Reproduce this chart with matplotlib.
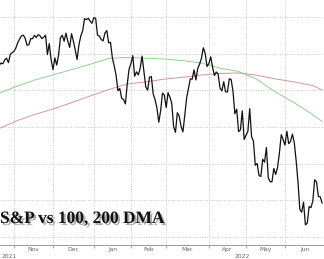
import numpy as np
import pandas as pd
import matplotlib
matplotlib.use("Agg")
import matplotlib.pyplot as plt
import matplotlib.patheffects as pe

# trading days shown (NYSE holidays removed)
holidays = ["2021-11-25", "2021-12-24", "2022-01-17", "2022-02-21",
            "2022-04-15", "2022-05-30", "2022-06-20"]
dates = pd.bdate_range("2021-10-19", "2022-06-30", freq="C", holidays=holidays)

# S&P 500 closes
spx_oct = [4519, 4536, 4549, 4545, 4566, 4575, 4551, 4596, 4605]
spx_nov = [4613, 4631, 4660, 4680, 4697, 4701, 4685, 4646, 4649, 4682, 4682,
           4700, 4688, 4704, 4698, 4682, 4690, 4701, 4595, 4655, 4567]
spx_dec = [4513, 4577, 4538, 4592, 4686, 4701, 4668, 4712, 4668, 4634, 4709,
           4668, 4620, 4568, 4649, 4697, 4725, 4791, 4786, 4793, 4778, 4766]
spx_jan = [4796, 4793, 4701, 4696, 4677, 4670, 4713, 4726, 4659, 4662, 4577,
           4533, 4483, 4398, 4410, 4357, 4350, 4326, 4432, 4516]
spx_feb = [4546, 4589, 4477, 4501, 4484, 4522, 4587, 4504, 4419, 4401, 4472,
           4475, 4380, 4349, 4305, 4226, 4288, 4385, 4374]
spx_mar = [4306, 4387, 4363, 4329, 4201, 4171, 4278, 4260, 4204, 4173, 4262,
           4358, 4412, 4463, 4461, 4512, 4457, 4520, 4543, 4575, 4632, 4602, 4530]
spx_apr = [4546, 4583, 4525, 4481, 4500, 4488, 4413, 4397, 4447, 4392, 4391,
           4463, 4459, 4394, 4272, 4297, 4175, 4184, 4288, 4132]
spx_may = [4155, 4175, 4300, 4147, 4123, 3991, 4001, 3935, 3930, 4024, 4008,
           4088, 3923, 3901, 3901, 3974, 3941, 3979, 4058, 4158, 4132]
spx_jun = [4101, 4177, 4109, 4121, 4161, 4116, 4018, 3901, 3750, 3735, 3790,
           3666, 3675, 3765, 3760, 3796, 3912, 3900, 3821, 3819, 3785]
spx = np.array(spx_oct + spx_nov + spx_dec + spx_jan + spx_feb + spx_mar
               + spx_apr + spx_may + spx_jun, dtype=float)
assert len(spx) == len(dates)

# moving averages, read every 10 trading days
ma_idx = [0, 10, 20, 30, 40, 50, 60, 70, 80, 90, 100, 110, 120, 130, 140,
          150, 160, 170, 175]
dma100 = [4380, 4420, 4456, 4484, 4513, 4542, 4574, 4580, 4575, 4571, 4562,
          4549, 4521, 4503, 4460, 4390, 4333, 4267, 4230]
dma200 = [4187, 4232, 4268, 4298, 4333, 4369, 4404, 4435, 4446, 4461, 4471,
          4484, 4492, 4495, 4482, 4462, 4446, 4426, 4402]

x = np.arange(len(dates))
months = dates.to_period("M")
month_start = [i for i in range(1, len(dates)) if months[i] != months[i - 1]]
bounds = month_start + [len(dates)]
month_mid = [(bounds[k] + bounds[k + 1]) / 2 for k in range(len(month_start))]
month_lab = [dates[i].strftime("%b") for i in month_start]

fig = plt.figure(figsize=(3.24, 2.59), dpi=100)
ax = fig.add_axes([0, 14 / 259, 1, 245 / 259])

ax.plot(ma_idx, dma100, color="#93cf93", lw=0.7, zorder=2)
ax.plot(ma_idx, dma200, color="#cf9a9a", lw=0.7, zorder=2)
ax.plot(x, spx, color="#111111", lw=0.9, zorder=3)

# 1.856 px per trading day, Nov 1 sits at 14 px
nov1 = month_start[0]
ax.set_xlim(nov1 - 14 / 1.856, nov1 + 310 / 1.856)
ax.set_ylim(3556, 4893)

ax.set_xticks(month_start)
ax.set_xticks(month_mid, minor=True)
ax.set_xticklabels([])
ax.set_xticklabels(month_lab, minor=True)
ax.set_yticks(np.arange(3600, 4801, 200))
ax.tick_params(axis="x", which="major", length=2.5, color="#999999", width=0.6)
ax.tick_params(axis="x", which="minor", length=0, labelsize=4.3,
               labelcolor="#666666", pad=1.5)
ax.tick_params(axis="y", length=0, labelleft=False)
ax.grid(True, which="major", color="#c8c8c8", lw=0.7, linestyle=(0, (1, 1.5)))

for s in ["left", "right", "top"]:
    ax.spines[s].set_visible(False)
ax.spines["bottom"].set_color("#999999")
ax.spines["bottom"].set_linewidth(0.7)

trans = ax.get_xaxis_transform()
ax.text(0.004, -0.046, "2021", transform=ax.transAxes, ha="left",
        va="center", fontsize=4.3, color="#666666", clip_on=False)
ax.text(nov1 + 228 / 1.856, -0.046, "2022", transform=trans, ha="center",
        va="center", fontsize=4.3, color="#666666", clip_on=False)

ax.text(0.0, 22 / 245, "S&P vs 100, 200 DMA", transform=ax.transAxes,
        ha="left", va="baseline", fontsize=12.5, fontweight="bold",
        family="Liberation Serif", color="#111111", zorder=5,
        path_effects=[pe.withSimplePatchShadow(offset=(1.5, -1.5),
                                               shadow_rgbFace="#777777",
                                               alpha=0.6)])

fig.savefig("out.png", dpi=100)
